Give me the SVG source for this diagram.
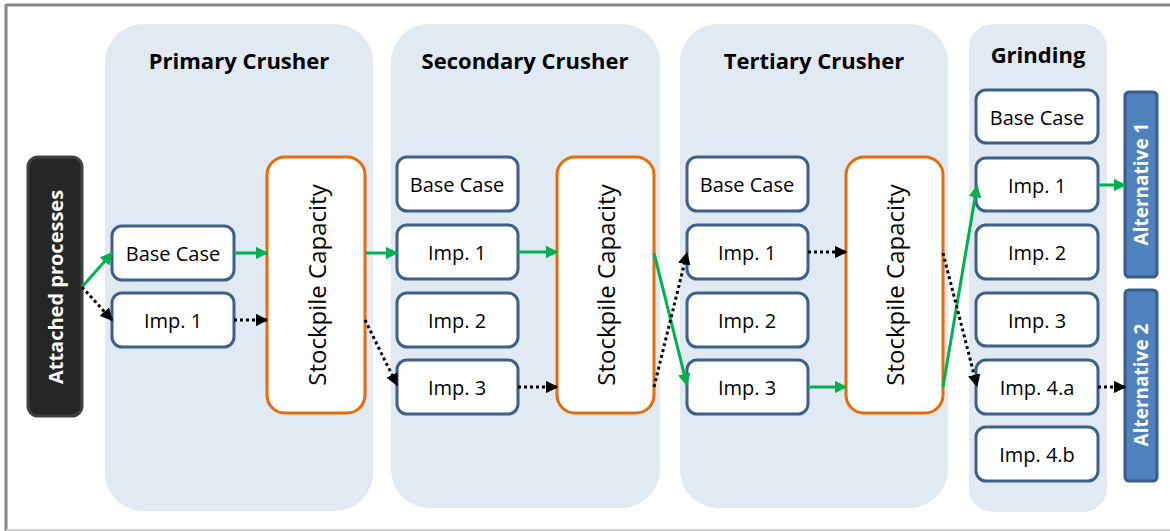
<svg xmlns="http://www.w3.org/2000/svg" width="1170" height="531" viewBox="0 0 1170 531">
  <defs>
    <marker id="ah-green" viewBox="0 0 10 10" refX="9" refY="5" markerWidth="4.2" markerHeight="4.2" orient="auto" markerUnits="strokeWidth">
      <path d="M0,0 L10,5 L0,10 z" fill="#00b050"/>
    </marker>
    <marker id="ah-black" viewBox="0 0 10 10" refX="9" refY="5" markerWidth="4.2" markerHeight="4.2" orient="auto" markerUnits="strokeWidth">
      <path d="M0,0 L10,5 L0,10 z" fill="#000000"/>
    </marker>
  </defs>
  <style>
    .panel { fill: #e1e9f3; }
    .title { font-family: "Open Sans", "Liberation Sans", sans-serif; font-weight: bold; font-size: 22px; fill: #000; text-anchor: middle; }
    .box rect { fill: #ffffff; stroke: #3e6089; stroke-width: 3; }
    .box text { font-family: "Open Sans", "Liberation Sans", sans-serif; font-size: 20px; fill: #000; text-anchor: middle; dominant-baseline: central; }
    .stock rect { fill: #ffffff; stroke: #e46c0a; stroke-width: 3; }
    .stock text { font-family: "Open Sans", "Liberation Sans", sans-serif; font-size: 24px; fill: #000; text-anchor: middle; dominant-baseline: central; }
    .alt rect { fill: #4f81bd; stroke: #385d8a; stroke-width: 3; }
    .alt text { font-family: "Open Sans", "Liberation Sans", sans-serif; font-weight: bold; font-size: 19px; fill: #fff; text-anchor: middle; dominant-baseline: central; }
    .green { stroke: #00b050; stroke-width: 3; fill: none; marker-end: url(#ah-green); }
    .dots { stroke: #000; stroke-width: 3; fill: none; stroke-dasharray: 3 3; marker-end: url(#ah-black); }
  </style>

  <!-- frame -->
  <rect x="0" y="0" width="1170" height="531" fill="#ffffff"/>
  <line x1="6" y1="5" x2="1170" y2="5" stroke="#878787" stroke-width="3"/>
  <line x1="6" y1="4" x2="6" y2="531" stroke="#878787" stroke-width="3"/>
  <line x1="6" y1="530" x2="1170" y2="530" stroke="#d0d0d0" stroke-width="2"/>

  <!-- stage panels -->
  <g id="panel-primary">
    <rect class="panel" x="105" y="24" width="268" height="487" rx="38"/>
    <text class="title" x="239" y="69">Primary Crusher</text>
  </g>
  <g id="panel-secondary">
    <rect class="panel" x="391" y="24" width="269" height="484" rx="38"/>
    <text class="title" x="525" y="69">Secondary Crusher</text>
  </g>
  <g id="panel-tertiary">
    <rect class="panel" x="680" y="24" width="268" height="484" rx="38"/>
    <text class="title" x="814" y="69">Tertiary Crusher</text>
  </g>
  <g id="panel-grinding">
    <rect class="panel" x="969" y="24" width="138" height="488" rx="24"/>
    <text class="title" x="1038" y="63">Grinding</text>
  </g>

  <!-- source -->
  <g id="attached">
    <rect x="28" y="157" width="54" height="259" rx="10" fill="#262626" stroke="#404040" stroke-width="3"/>
    <text x="55" y="287" transform="rotate(-90 55 287)" font-family="Open Sans, Liberation Sans, sans-serif" font-weight="bold" font-size="20" fill="#ffffff" text-anchor="middle" dominant-baseline="central">Attached processes</text>
  </g>

  <!-- primary crusher -->
  <g id="p-base" class="box"><rect x="112" y="226" width="122" height="54" rx="10"/><text x="173" y="253">Base Case</text></g>
  <g id="p-imp1" class="box"><rect x="112" y="293" width="122" height="54" rx="10"/><text x="173" y="320">Imp. 1</text></g>
  <g id="p-stock" class="stock"><rect x="267" y="157" width="98" height="256" rx="18"/><text x="316" y="285" transform="rotate(-90 316 285)">Stockpile Capacity</text></g>

  <!-- secondary crusher -->
  <g id="s-base" class="box"><rect x="397" y="157" width="121" height="54" rx="10"/><text x="457" y="184">Base Case</text></g>
  <g id="s-imp1" class="box"><rect x="397" y="225" width="121" height="54" rx="10"/><text x="457" y="252">Imp. 1</text></g>
  <g id="s-imp2" class="box"><rect x="397" y="293" width="121" height="54" rx="10"/><text x="457" y="320">Imp. 2</text></g>
  <g id="s-imp3" class="box"><rect x="397" y="360" width="121" height="54" rx="10"/><text x="457" y="387">Imp. 3</text></g>
  <g id="s-stock" class="stock"><rect x="557" y="157" width="97" height="256" rx="18"/><text x="605" y="285" transform="rotate(-90 605 285)">Stockpile Capacity</text></g>

  <!-- tertiary crusher -->
  <g id="t-base" class="box"><rect x="687" y="157" width="121" height="54" rx="10"/><text x="747" y="184">Base Case</text></g>
  <g id="t-imp1" class="box"><rect x="687" y="225" width="121" height="54" rx="10"/><text x="747" y="252">Imp. 1</text></g>
  <g id="t-imp2" class="box"><rect x="687" y="293" width="121" height="54" rx="10"/><text x="747" y="320">Imp. 2</text></g>
  <g id="t-imp3" class="box"><rect x="687" y="360" width="121" height="54" rx="10"/><text x="747" y="387">Imp. 3</text></g>
  <g id="t-stock" class="stock"><rect x="846" y="157" width="97" height="256" rx="18"/><text x="894" y="285" transform="rotate(-90 894 285)">Stockpile Capacity</text></g>

  <!-- grinding -->
  <g id="g-base" class="box"><rect x="976" y="90" width="122" height="53" rx="10"/><text x="1037" y="117">Base Case</text></g>
  <g id="g-imp1" class="box"><rect x="976" y="158" width="122" height="53" rx="10"/><text x="1037" y="185">Imp. 1</text></g>
  <g id="g-imp2" class="box"><rect x="976" y="225" width="122" height="54" rx="10"/><text x="1037" y="252">Imp. 2</text></g>
  <g id="g-imp3" class="box"><rect x="976" y="293" width="122" height="53" rx="10"/><text x="1037" y="320">Imp. 3</text></g>
  <g id="g-imp4a" class="box"><rect x="976" y="360" width="122" height="54" rx="10"/><text x="1037" y="387">Imp. 4.a</text></g>
  <g id="g-imp4b" class="box"><rect x="976" y="427" width="122" height="54" rx="10"/><text x="1037" y="454">Imp. 4.b</text></g>

  <!-- outcomes -->
  <g id="alt1" class="alt"><rect x="1125" y="92" width="32" height="185" rx="4"/><text x="1141" y="184" transform="rotate(-90 1141 184)">Alternative 1</text></g>
  <g id="alt2" class="alt"><rect x="1125" y="290" width="32" height="191" rx="4"/><text x="1141" y="385" transform="rotate(-90 1141 385)">Alternative 2</text></g>

  <!-- connectors -->
  <g id="connectors">
    <line class="green" x1="82" y1="287" x2="112" y2="253"/>
    <line class="dots" x1="82" y1="287" x2="112" y2="320"/>
    <line class="green" x1="234" y1="253" x2="267" y2="253"/>
    <line class="dots" x1="234" y1="320" x2="267" y2="320"/>
    <line class="green" x1="365" y1="253" x2="397" y2="253"/>
    <line class="dots" x1="365" y1="320" x2="397" y2="385"/>
    <line class="green" x1="518" y1="252" x2="557" y2="252"/>
    <line class="dots" x1="518" y1="387" x2="557" y2="387"/>
    <line class="green" x1="654" y1="253" x2="687" y2="385"/>
    <line class="dots" x1="654" y1="387" x2="687" y2="253"/>
    <line class="dots" x1="808" y1="252" x2="846" y2="252"/>
    <line class="green" x1="808" y1="387" x2="846" y2="387"/>
    <line class="green" x1="943" y1="387" x2="977" y2="186"/>
    <line class="dots" x1="943" y1="253" x2="977" y2="386"/>
    <line class="green" x1="1098" y1="185" x2="1125" y2="185"/>
    <line class="dots" x1="1098" y1="387" x2="1125" y2="387"/>
  </g>
</svg>
